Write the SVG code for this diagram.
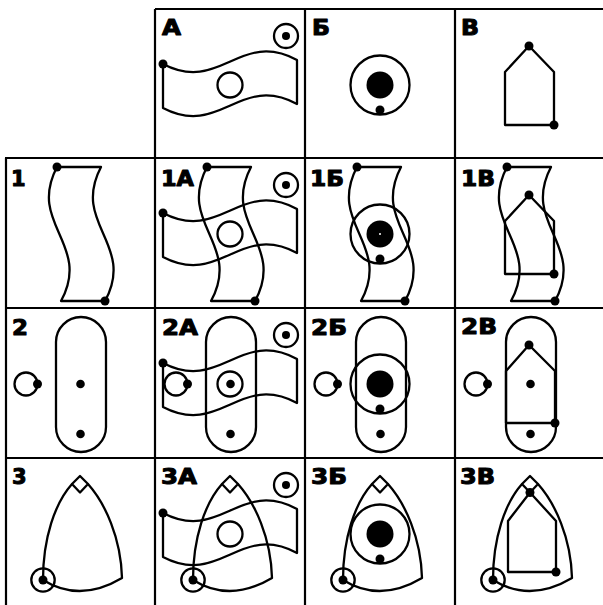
<svg xmlns="http://www.w3.org/2000/svg" xmlns:xlink="http://www.w3.org/1999/xlink" width="603" height="605" viewBox="0 0 603 605">
<style>
.s{fill:none;stroke:#000;stroke-width:2.3;stroke-linejoin:round}
.d{fill:#000;stroke:none}
.w{fill:#fff;stroke:none}
.lbl{font-family:"DejaVu Sans","Liberation Sans",sans-serif;font-weight:bold;font-size:21px;fill:#000;stroke:#000;stroke-width:1;stroke-linejoin:round}
.g{stroke:#000;stroke-width:2.2;fill:none}
</style>
<defs>
<path id="flag" class="s" d="M8,55 C65,85 85,20 142,51 L142,95 C85,64 65,129 8,99 Z"/>
<rect id="stad" class="s" x="51" y="9" width="50" height="135" rx="25"/>
<path id="reul" class="s" d="M67,26 L75,18 L83,26 L75,34.5 Z M67,26 C50,45 38,80 38,122 Q75,145 117,120 C116,80 100,45 83,26"/>
<g id="target"><circle cx="131" cy="27" r="12" class="s"/><circle cx="131" cy="27" r="4" class="d"/></g>
<circle id="hole" class="s" cx="75" cy="76" r="12.5"/>
<g id="bigc"><circle cx="75" cy="76" r="29.5" class="s"/><circle cx="75" cy="76" r="13.5" class="d"/><circle cx="75" cy="101" r="4.5" class="d"/></g>
<g id="strip"><use xlink:href="#flag" transform="rotate(90 75 76)"/><circle cx="52" cy="9" r="4.5" class="d"/><circle cx="100" cy="143" r="4.5" class="d"/></g>
<g id="crank"><circle cx="21" cy="76" r="11.5" class="s"/><circle cx="32.5" cy="76" r="4.5" class="d"/></g>
<g id="sdots"><circle cx="75.5" cy="76" r="4.3" class="d"/><circle cx="75.5" cy="126" r="4.3" class="d"/></g>
<g id="ring"><circle cx="38" cy="122" r="11.7" class="s"/><circle cx="38" cy="122" r="4.5" class="d"/></g>
<circle id="fdot" class="d" cx="8" cy="55" r="4.5"/>
<g id="pent"><path class="s" d="M74,37 L50,63 L50,116 L99,116 L99,63 Z"/><circle cx="74" cy="37" r="4.5" class="d"/><circle cx="99" cy="116" r="4.5" class="d"/></g>
</defs>

<g id="grid" class="g">
<path d="M155,9 H603 M5,158 H603 M5,308 H603 M5,458 H603 M6,158 V605 M155,9 V605 M305,9 V605 M455,9 V605"/>
</g>
<g id="connectors"></g>

<g id="cell-A" transform="translate(155,9)">
<text class="lbl" x="7" y="26" textLength="19" lengthAdjust="spacingAndGlyphs">А</text>
<use xlink:href="#flag"/><use xlink:href="#fdot"/><use xlink:href="#hole"/><use xlink:href="#target"/>
</g>
<g id="cell-B" transform="translate(305,9)">
<text class="lbl" x="7" y="26" textLength="18" lengthAdjust="spacingAndGlyphs">Б</text>
<use xlink:href="#bigc"/>
</g>
<g id="cell-V" transform="translate(455,9)">
<text class="lbl" x="6" y="26" textLength="18" lengthAdjust="spacingAndGlyphs">В</text>
<use xlink:href="#pent"/>
</g>

<g id="cell-1" transform="translate(5,158)">
<text class="lbl" x="6" y="28">1</text>
<use xlink:href="#strip"/>
</g>
<g id="cell-1A" transform="translate(155,158)">
<text class="lbl" x="6" y="28" textLength="33" lengthAdjust="spacingAndGlyphs">1А</text>
<use xlink:href="#flag"/><use xlink:href="#strip"/><use xlink:href="#fdot"/><use xlink:href="#hole"/><use xlink:href="#target"/>
</g>
<g id="cell-1B" transform="translate(305,158)">
<text class="lbl" x="5" y="28" textLength="34" lengthAdjust="spacingAndGlyphs">1Б</text>
<use xlink:href="#strip"/><use xlink:href="#bigc"/><circle cx="75" cy="76" r="1" class="w"/>
</g>
<g id="cell-1V" transform="translate(455,158)">
<text class="lbl" x="6" y="28" textLength="34" lengthAdjust="spacingAndGlyphs">1В</text>
<use xlink:href="#strip"/><use xlink:href="#pent"/>
</g>

<g id="cell-2" transform="translate(5,308)">
<text class="lbl" x="7" y="27" textLength="16" lengthAdjust="spacingAndGlyphs">2</text>
<use xlink:href="#stad"/><use xlink:href="#sdots"/><use xlink:href="#crank"/>
</g>
<g id="cell-2A" transform="translate(155,308)">
<text class="lbl" x="7" y="27" textLength="36" lengthAdjust="spacingAndGlyphs">2А</text>
<use xlink:href="#stad"/><use xlink:href="#flag"/><use xlink:href="#fdot"/><use xlink:href="#hole"/><use xlink:href="#sdots"/><use xlink:href="#crank"/><use xlink:href="#target"/>
</g>
<g id="cell-2B" transform="translate(305,308)">
<text class="lbl" x="6" y="27" textLength="36" lengthAdjust="spacingAndGlyphs">2Б</text>
<use xlink:href="#stad"/><use xlink:href="#bigc"/><circle cx="75.5" cy="126" r="4.3" class="d"/><use xlink:href="#crank"/>
</g>
<g id="cell-2V" transform="translate(455,308)">
<text class="lbl" x="6" y="26" textLength="36" lengthAdjust="spacingAndGlyphs">2В</text>
<use xlink:href="#stad"/>
<path class="s" d="M74,37 L51,63 L51,115 L100,115 L100,63 Z"/><circle cx="74" cy="37" r="4.5" class="d"/><circle cx="100" cy="115" r="4.5" class="d"/>
<use xlink:href="#sdots"/><use xlink:href="#crank"/>
</g>

<g id="cell-3" transform="translate(5,458)">
<text class="lbl" x="7" y="26">3</text>
<use xlink:href="#reul"/><use xlink:href="#ring"/>
</g>
<g id="cell-3A" transform="translate(155,458)">
<text class="lbl" x="6" y="26" textLength="36" lengthAdjust="spacingAndGlyphs">3А</text>
<use xlink:href="#reul"/><use xlink:href="#ring"/><use xlink:href="#flag"/><use xlink:href="#fdot"/><use xlink:href="#hole"/><use xlink:href="#target"/>
</g>
<g id="cell-3B" transform="translate(305,458)">
<text class="lbl" x="6" y="26" textLength="36" lengthAdjust="spacingAndGlyphs">3Б</text>
<use xlink:href="#reul"/><use xlink:href="#ring"/><use xlink:href="#bigc"/>
</g>
<g id="cell-3V" transform="translate(455,458)">
<text class="lbl" x="5" y="26" textLength="35" lengthAdjust="spacingAndGlyphs">3В</text>
<use xlink:href="#reul"/><use xlink:href="#ring"/>
<path class="s" d="M75,34.5 L53,63 L53,114 L101,114 L101,63 Z"/><circle cx="75" cy="34.5" r="4.5" class="d"/><circle cx="101" cy="114" r="4.5" class="d"/>
</g>
</svg>
